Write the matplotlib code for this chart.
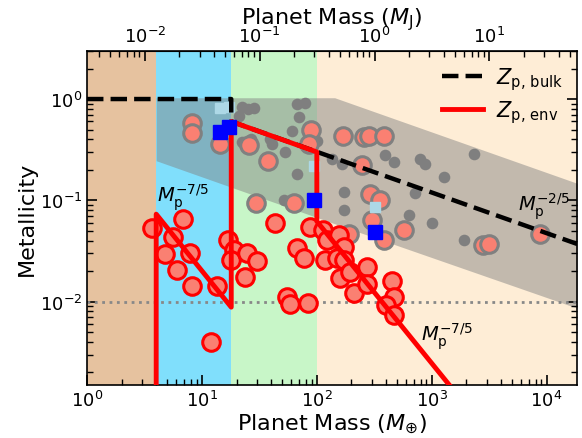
import numpy as np
import matplotlib
matplotlib.use('Agg')
import matplotlib.pyplot as plt

OUT = 'out.png'
MJ = 317.8  # Earth masses per Jupiter mass

# mass regimes (Earth masses) and their shading
region_edges = [1, 4, 18, 100, 1.85e4]
region_colors = ['#e6c29f', '#80dffc', '#c8f6c8', '#feedd6']

# grey band (spread of bulk metallicity)
band_m = [4, 143, 1.85e4]
band_hi = [1.03, 1.03, 0.147]
band_lo = [0.246, 0.0587, 0.0086]

# model curves (vertices in log-log space)
bulk_m = [1, 18, 18, 1.85e4]
bulk_z = [1.0, 1.0, 0.6, 0.037]
env_m = [4, 4, 18, 18, 100, 100, 1900]
env_z = [0.001, 0.073, 0.0088, 0.6, 0.3, 0.062, 0.001]

# giant planets, bulk metallicity (grey dots)
grey_m = [22.3, 25.3, 28.5, 67.1, 79.3, 69.3, 60.7, 22.3, 40.6, 53.0, 100, 67.1,
          135, 165, 394, 466, 796, 880, 1270, 2317, 171, 171, 720, 629, 1006,
          1897, 51.3, 21.0, 26.5, 39.3]
grey_z = [0.829, 0.797, 0.810, 0.893, 0.907, 0.661, 0.488, 0.375, 0.361, 0.299,
          0.389, 0.183, 0.257, 0.230, 0.277, 0.238, 0.257, 0.230, 0.170, 0.288,
          0.121, 0.081, 0.118, 0.0712, 0.060, 0.0404, 0.1016, 0.681, 0.402, 0.402]

# planets with atmospheric metallicity, grey outline
atm_m = [8.22, 8.22, 14.3, 25.8, 37.9, 88.9, 84.7, 168, 255, 282, 381, 247, 292,
         357, 29.5, 62.7, 302, 189, 387, 569, 2770, 3175, 8770]
atm_z = [0.585, 0.466, 0.358, 0.348, 0.242, 0.496, 0.358, 0.43, 0.42, 0.43,
         0.436, 0.221, 0.116, 0.101, 0.094, 0.093, 0.0646, 0.047, 0.0404, 0.0507,
         0.036, 0.0368, 0.047]

# planets with atmospheric metallicity, red outline
env_pm = [3.66, 6.81, 5.65, 4.78, 7.89, 6.12, 8.17, 13.5, 11.9, 16.7, 19.1, 17.9,
          24.9, 30.1, 23.8, 43.4, 55, 57.9, 83, 67.1, 77.6, 87.6, 113, 122, 155,
          171, 117, 150, 171, 160, 195, 209, 273, 273, 451, 466, 402, 472]
env_pz = [0.0535, 0.065, 0.0437, 0.0292, 0.0299, 0.0205, 0.0144, 0.0141, 0.00399,
          0.0404, 0.0322, 0.0257, 0.0299, 0.0254, 0.0174, 0.060, 0.011, 0.0094,
          0.0096, 0.0335, 0.0267, 0.0547, 0.0507, 0.0404, 0.0453, 0.0348, 0.0257,
          0.0267, 0.0257, 0.017, 0.0198, 0.0121, 0.0221, 0.0148, 0.0161, 0.011,
          0.0093, 0.0074]

# solar system giants: Uranus, Neptune, Saturn, Jupiter
ss_m = [14.5, 17.1, 95.2, 317.8]
ss_bulk = [0.474, 0.527, 0.10, 0.049]
ss_env = [0.807, 0.825, 0.22, 0.086]

top_ticks = [1e-2, 1e-1, 1, 10]

fig = plt.figure(figsize=(5.82, 4.39), dpi=100)
ax = fig.add_axes([0.1495, 0.1207, 0.8425, 0.7615])
ax.set_xscale('log')
ax.set_yscale('log')

for lo, hi, c in zip(region_edges[:-1], region_edges[1:], region_colors):
    ax.axvspan(lo, hi, color=c, lw=0, zorder=0)

ax.fill_between(band_m, band_lo, band_hi, color='#808080', alpha=0.47, lw=0, zorder=1)
ax.axhline(0.01, color='#888888', ls=':', lw=2, zorder=2)

ax.scatter(grey_m, grey_z, s=70, color='#7f7f7f', lw=0, zorder=3)
ax.scatter(atm_m, atm_z, s=160, facecolor='#fa8072', edgecolor='#808080', lw=2.2, zorder=4)
ax.scatter(env_pm, env_pz, s=160, facecolor='#fa8072', edgecolor='red', lw=2.2, zorder=4)
ax.plot(ss_m, ss_env, 's', color='#add8e6', ms=7, zorder=4.5)

ax.plot(bulk_m, bulk_z, color='black', ls='--', lw=3.2, zorder=5,
        label=r'$Z_{\rm p,\,bulk}$')
ax.plot(env_m, env_z, color='red', lw=3.5, zorder=5, label=r'$Z_{\rm p,\,env}$')
ax.plot(ss_m, ss_bulk, 's', color='blue', ms=10, zorder=6)

ax.text(4.1, 0.098, r'$M_{\rm p}^{-7/5}$', fontsize=14, zorder=7)
ax.text(5600, 0.079, r'$M_{\rm p}^{-2/5}$', fontsize=14, zorder=7)
ax.text(810, 0.0041, r'$M_{\rm p}^{-7/5}$', fontsize=14, zorder=7)

ax.set_xlim(1, 1.85e4)
ax.set_ylim(1.5e-3, 3)
ax.set_xlabel(r'Planet Mass ($M_{\oplus}$)', fontsize=16, labelpad=1)
ax.set_ylabel('Metallicity', fontsize=16, labelpad=2)
ax.tick_params(which='both', direction='in', right=True, top=False, labelsize=13)
ax.tick_params(which='major', length=7, width=1.2)
ax.tick_params(which='minor', length=4, width=1)

top = ax.secondary_xaxis('top', functions=(lambda m: m / MJ, lambda j: j * MJ))
top.set_xticks(top_ticks)
top.tick_params(which='both', direction='in', labelsize=13)
top.tick_params(which='major', length=7, width=1.2)
top.tick_params(which='minor', length=4, width=1)
top.set_xlabel(r'Planet Mass ($M_{\rm J}$)', fontsize=16, labelpad=2)

for spine in ax.spines.values():
    spine.set_linewidth(1.2)

ax.legend(loc='upper right', frameon=False, fontsize=15, handlelength=2.0,
          handletextpad=0.6, labelspacing=0.3, borderaxespad=0.3)

fig.savefig(OUT, dpi=100)
